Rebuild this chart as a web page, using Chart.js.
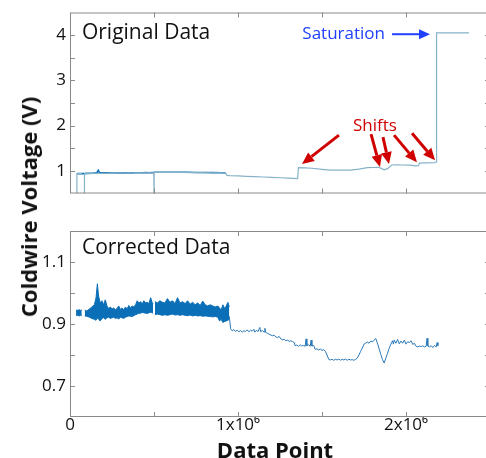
<!DOCTYPE html>
<html>
<head>
<meta charset="utf-8">
<script src="https://cdn.jsdelivr.net/npm/chart.js@4.4.1/dist/chart.umd.min.js"></script>
<style>
  html, body { margin: 0; padding: 0; background: #fff; overflow: hidden; }
  #wrap { position: relative; width: 486px; height: 458px; overflow: hidden; font-family: "Open Sans", sans-serif; color: #111; }
  #top { position: absolute; left: 0; top: 0; }
  #bot { position: absolute; left: 0; top: 215px; }
  .ttl { position: absolute; font-weight: bold; white-space: nowrap; font-size: 22px; line-height: 1; }
  #ytitle { left: 28px; top: 207px; transform: translate(-50%, -50%) rotate(-90deg); }
  #xtitle { left: 275px; top: 449px; transform: translate(-50%, -50%); }
</style>
</head>
<body>
<div id="wrap">
  <canvas id="top" width="490" height="206"></canvas>
  <canvas id="bot" width="490" height="228"></canvas>
  <div class="ttl" id="ytitle">Coldwire Voltage (V)</div>
  <div class="ttl" id="xtitle">Data Point</div>
</div>
<script>
// ---- raw signal, x in thousands of data points ----
const origDarkK = [41, 72, 86, 100, 120, 140, 160, 168, 175, 190, 210, 230, 250, 270, 290, 310, 330,
                   350, 370, 390, 410, 430, 450, 470, 490, 499, 501, 520, 550, 600, 650, 700, 750, 800, 850, 900, 925];
const origDarkV = [0.94, 0.94, 0.94, 0.945, 0.948, 0.952, 0.96, 1.01, 0.965, 0.955, 0.96, 0.955, 0.952, 0.95, 0.953, 0.95, 0.955,
                   0.952, 0.955, 0.958, 0.96, 0.958, 0.962, 0.96, 0.962, 0.96, 0.97, 0.97, 0.968, 0.97, 0.968, 0.97, 0.965, 0.965, 0.962, 0.958, 0.955];

// dropouts and the later drifting stretch
const origLightK = [40, 41, 72, 78, 85, 86, 499, 500, 501, 925, 935, 950, 1000, 1050, 1100, 1150, 1200, 1250, 1300, 1355, 1360, 1400, 1440, 1500, 1550, 1600, 1670, 1720, 1770,
                    1800, 1835, 1850, 1870, 1890, 1915, 1950, 1980, 2020, 2060, 2075, 2080, 2120, 2170, 2180, 2182, 2375];
const origLightV = [0.4, 0.94, 0.94, null, 0.4, 0.94, 0.96, 0.4, 0.97, 0.955, 0.9, 0.895, 0.888, 0.88, 0.872, 0.865, 0.855, 0.848, 0.84, 0.83, 1.07, 1.065, 1.058, 1.035, 1.018, 1.015, 1.015, 1.04, 1.07,
                    1.075, 1.08, 1.06, 1.025, 1.05, 1.13, 1.132, 1.13, 1.125, 1.11, 1.115, 1.17, 1.175, 1.18, 1.2, 4.05, 4.05];

// ---- corrected signal: noisy early stretch as a high/low band ----
const bandK = [36, 45, 55, 63, 70, 78,
  88, 100, 115, 130, 145, 155, 163, 170, 180, 190,
  200, 210, 220, 230, 240, 250, 260, 270, 280, 290,
  300, 310, 320, 330, 340, 350, 360, 370, 380, 390,
  400, 410, 420, 430, 440, 450, 460, 470, 480, 490, 495, 500,
  505, 520, 535, 550, 565, 580, 595, 610, 625, 640,
  655, 670, 685, 700, 715, 730, 745, 760, 775, 790,
  805, 820, 835, 850, 865, 880, 890, 900, 910, 920, 930, 940, 948];
const bandHigh = [0.945, 0.944, 0.946, 0.944, 0.945, null,
  0.944, 0.942, 0.948, 0.955, 0.962, 0.985, 1.03, 0.99, 0.968, 0.975,
  0.962, 0.978, 0.958, 0.95, 0.955, 0.948, 0.952, 0.946, 0.95, 0.958,
  0.947, 0.952, 0.945, 0.955, 0.948, 0.96, 0.952, 0.958, 0.955, 0.962,
  0.975, 0.968, 0.972, 0.965, 0.975, 0.968, 0.97, 0.966, 0.985, 0.968, 0.965, null,
  0.972, 0.968, 0.975, 0.97, 0.968, 0.982, 0.97, 0.975, 0.966, 0.985,
  0.968, 0.972, 0.966, 0.975, 0.964, 0.97, 0.962, 0.968, 0.96, 0.974,
  0.962, 0.958, 0.962, 0.958, 0.955, 0.958, 0.952, 0.945, 0.962, 0.95, 0.958, 0.97, 0.955];
const bandLow = [0.927, 0.928, 0.926, 0.928, 0.927, null,
  0.926, 0.925, 0.922, 0.918, 0.915, 0.912, 0.92, 0.915, 0.91, 0.918,
  0.92, 0.915, 0.92, 0.922, 0.918, 0.92, 0.922, 0.918, 0.92, 0.916,
  0.922, 0.92, 0.918, 0.922, 0.924, 0.926, 0.925, 0.924, 0.927, 0.93,
  0.932, 0.935, 0.935, 0.937, 0.936, 0.935, 0.934, 0.936, 0.938, 0.936, 0.935, null,
  0.93, 0.932, 0.93, 0.928, 0.93, 0.928, 0.93, 0.932, 0.929, 0.93,
  0.928, 0.93, 0.928, 0.927, 0.929, 0.926, 0.928, 0.926, 0.927, 0.925,
  0.926, 0.925, 0.924, 0.923, 0.924, 0.922, 0.91, 0.915, 0.905, 0.908, 0.91, 0.912, 0.915];

// ---- corrected signal after the step down ----
const corrK = [948, 956, 965, 975, 985, 995, 1005, 1015, 1025, 1035, 1045, 1055, 1065, 1075, 1085, 1095, 1100, 1110, 1120, 1130,
  1135, 1145, 1155, 1160, 1165, 1175, 1190, 1205, 1215, 1225, 1235, 1245, 1255, 1265, 1275, 1285, 1295, 1305, 1315, 1325,
  1335, 1340, 1350, 1360, 1370, 1380, 1390, 1400, 1405, 1410, 1420, 1430, 1435, 1440, 1450, 1460, 1470, 1480, 1490, 1500,
  1510, 1520, 1530, 1540, 1550, 1560, 1570, 1580, 1590, 1600, 1610, 1620, 1630, 1640, 1650, 1660, 1670, 1680, 1690, 1700,
  1710, 1720, 1730, 1740, 1750, 1760, 1770, 1780, 1790, 1800, 1810, 1820, 1830, 1840, 1850, 1860, 1870, 1880, 1890, 1900,
  1910, 1920, 1925, 1930, 1940, 1950, 1960, 1970, 1980, 1990, 2000, 2010, 2020, 2030, 2040, 2050, 2060, 2070, 2080, 2090,
  2100, 2110, 2120, 2125, 2130, 2140, 2150, 2160, 2170, 2180, 2185, 2190];
const corrV = [0.925, 0.885, 0.878, 0.882, 0.876, 0.88, 0.875, 0.879, 0.874, 0.878, 0.876, 0.881, 0.875, 0.88, 0.877, 0.883, 0.874, 0.879, 0.876, 0.889,
  0.875, 0.879, 0.874, 0.886, 0.873, 0.87, 0.866, 0.862, 0.864, 0.858, 0.856, 0.86, 0.852, 0.849, 0.851, 0.846, 0.848, 0.844, 0.846, 0.843,
  0.84, 0.83, 0.832, 0.828, 0.833, 0.829, 0.831, 0.828, 0.852, 0.83, 0.833, 0.828, 0.848, 0.829, 0.831, 0.818, 0.82, 0.816, 0.819, 0.815,
  0.817, 0.812, 0.8, 0.786, 0.784, 0.786, 0.783, 0.786, 0.784, 0.787, 0.783, 0.786, 0.784, 0.787, 0.783, 0.786, 0.784, 0.785, 0.783, 0.786,
  0.79, 0.8, 0.812, 0.822, 0.835, 0.838, 0.842, 0.838, 0.845, 0.842, 0.848, 0.853, 0.838, 0.82, 0.802, 0.785, 0.774, 0.79, 0.805, 0.822,
  0.835, 0.846, 0.835, 0.848, 0.838, 0.85, 0.836, 0.845, 0.838, 0.848, 0.835, 0.843, 0.84, 0.846, 0.834, 0.838, 0.828, 0.826, 0.829, 0.827,
  0.83, 0.826, 0.828, 0.854, 0.829, 0.826, 0.83, 0.824, 0.831, 0.826, 0.84, 0.83];

// ---- axis ticks ----
const topYTicks = [1, 2, 3, 4];
const topYMinor = [1.5, 2.5, 3.5];
const botYTicks = [0.7, 0.9, 1.1];
const botYMinor = [0.8, 1.0];
const xTicks = [0, 1e6, 2e6];
const xMinor = [0.5e6, 1.5e6, 2.5e6];

const DARK = '#0b6fb8';
const LIGHT = '#86b2c8';
const FONT = '"Open Sans", sans-serif';

function pts(ks, vs) {
  return ks.map((k, i) => ({ x: k * 1000, y: vs[i] }));
}

// box around the plot area with short inward ticks (drawn over the data)
const framePlugin = {
  id: 'frame',
  afterDatasetsDraw(chart, args, o) {
    const { ctx, chartArea: a, scales: { x, y } } = chart;
    const len = 5;
    ctx.save();
    ctx.strokeStyle = '#8a8a8a';
    ctx.lineWidth = 1;
    ctx.beginPath();
    ctx.rect(a.left + 0.5, a.top + 0.5, a.right - a.left - 1, a.bottom - a.top - 1);
    o.yTicks.concat(o.yMinor).forEach(v => {
      const p = Math.round(y.getPixelForValue(v)) + 0.5;
      ctx.moveTo(a.left, p); ctx.lineTo(a.left + len, p);
      ctx.moveTo(a.right, p); ctx.lineTo(a.right - len, p);
    });
    xTicks.concat(xMinor).forEach(v => {
      const p = Math.round(x.getPixelForValue(v)) + 0.5;
      ctx.moveTo(p, a.bottom); ctx.lineTo(p, a.bottom - len);
      ctx.moveTo(p, a.top); ctx.lineTo(p, a.top + len);
    });
    ctx.stroke();
    ctx.restore();
  }
};

// labels and arrows placed in data coordinates
const notesPlugin = {
  id: 'notes',
  afterDraw(chart, args, o) {
    const { ctx, scales: { x, y } } = chart;
    ctx.save();
    (o.arrows || []).forEach(ar => {
      const x0 = x.getPixelForValue(ar.from[0]), y0 = y.getPixelForValue(ar.from[1]);
      const x1 = x.getPixelForValue(ar.to[0]), y1 = y.getPixelForValue(ar.to[1]);
      const ang = Math.atan2(y1 - y0, x1 - x0);
      const head = ar.head, hw = ar.head * 0.45;
      const bx = x1 - Math.cos(ang) * head, by = y1 - Math.sin(ang) * head;
      ctx.strokeStyle = ar.color;
      ctx.fillStyle = ar.color;
      ctx.lineWidth = ar.width;
      ctx.beginPath();
      ctx.moveTo(x0, y0); ctx.lineTo(bx, by);
      ctx.stroke();
      ctx.beginPath();
      ctx.moveTo(x1, y1);
      ctx.lineTo(bx + Math.sin(ang) * hw, by - Math.cos(ang) * hw);
      ctx.lineTo(bx - Math.sin(ang) * hw, by + Math.cos(ang) * hw);
      ctx.closePath();
      ctx.fill();
    });
    (o.texts || []).forEach(t => {
      ctx.font = t.size + 'px ' + FONT;
      ctx.fillStyle = t.color;
      ctx.textAlign = t.align;
      ctx.textBaseline = 'middle';
      ctx.fillText(t.text, x.getPixelForValue(t.x), y.getPixelForValue(t.y));
    });
    ctx.restore();
  }
};

function yScale(min, max, ticks, fmt) {
  return {
    min: min, max: max,
    afterFit(s) { s.width = 70; },
    afterBuildTicks(s) { s.ticks = ticks.map(v => ({ value: v })); },
    grid: { display: false, drawTicks: false },
    border: { display: false },
    ticks: {
      padding: 4, color: '#111',
      font: { family: FONT, size: 17, lineHeight: 1 },
      callback: fmt
    }
  };
}

// top panel: original data
new Chart(document.getElementById('top'), {
  type: 'line',
  data: {
    datasets: [
      { data: pts(origLightK, origLightV), borderColor: LIGHT, borderWidth: 1.2, pointRadius: 0 },
      { data: pts(origDarkK, origDarkV), borderColor: DARK, borderWidth: 1.6, pointRadius: 0 }
    ]
  },
  options: {
    responsive: false,
    animation: false,
    layout: { padding: { top: 10, bottom: 9, left: 0, right: 0 } },
    plugins: {
      legend: { display: false },
      tooltip: { enabled: false },
      frame: { yTicks: topYTicks, yMinor: topYMinor },
      notes: {
        texts: [
          { text: 'Original Data', x: 71e3, y: 4.04, color: '#111', size: 21, align: 'left' },
          { text: 'Saturation', x: 1875e3, y: 4.02, color: '#2040ff', size: 17, align: 'right' },
          { text: 'Shifts', x: 1815e3, y: 1.98, color: '#d00000', size: 17, align: 'center' }
        ],
        arrows: [
          { from: [1917e3, 4.02], to: [2143e3, 4.02], color: '#2040ff', width: 2, head: 11 },
          { from: [1601e3, 1.79], to: [1381e3, 1.15], color: '#d00000', width: 3, head: 12 },
          { from: [1792e3, 1.81], to: [1845e3, 1.085], color: '#d00000', width: 3, head: 12 },
          { from: [1863e3, 1.745], to: [1899e3, 1.15], color: '#d00000', width: 3, head: 12 },
          { from: [1929e3, 1.79], to: [2065e3, 1.19], color: '#d00000', width: 3, head: 12 },
          { from: [2036e3, 1.83], to: [2173e3, 1.234], color: '#d00000', width: 3, head: 12 }
        ]
      }
    },
    scales: {
      x: { type: 'linear', min: 0, max: 2.5e6, display: false },
      y: yScale(0.5, 4.5, topYTicks, v => String(v))
    }
  },
  plugins: [framePlugin, notesPlugin]
});

// bottom panel: corrected data
new Chart(document.getElementById('bot'), {
  type: 'line',
  data: {
    datasets: [
      { data: pts(bandK, bandHigh), borderColor: DARK, backgroundColor: DARK, borderWidth: 1, pointRadius: 0, fill: '+1' },
      { data: pts(bandK, bandLow), borderColor: DARK, borderWidth: 1, pointRadius: 0, fill: false },
      { data: pts(corrK, corrV), borderColor: '#2a78b8', borderWidth: 1, pointRadius: 0, fill: false }
    ]
  },
  options: {
    responsive: false,
    animation: false,
    layout: { padding: { top: 16, bottom: 0, left: 0, right: 0 } },
    plugins: {
      legend: { display: false },
      tooltip: { enabled: false },
      frame: { yTicks: botYTicks, yMinor: botYMinor },
      notes: {
        texts: [
          { text: 'Corrected Data', x: 71e3, y: 1.145, color: '#111', size: 21, align: 'left' }
        ]
      }
    },
    scales: {
      x: {
        type: 'linear', min: 0, max: 2.5e6,
        afterFit(s) { s.height = 26; },
        afterBuildTicks(s) { s.ticks = xTicks.map(v => ({ value: v })); },
        grid: { display: false, drawTicks: false },
        border: { display: false },
        ticks: {
          padding: 0, color: '#111', maxRotation: 0, autoSkip: false,
          font: { family: FONT, size: 17, lineHeight: 1 },
          callback: v => v === 0 ? '0' : (v / 1e6) + 'x10\u2076'
        }
      },
      y: yScale(0.6, 1.2, botYTicks, v => String(v))
    }
  },
  plugins: [framePlugin, notesPlugin]
});
</script>
</body>
</html>
